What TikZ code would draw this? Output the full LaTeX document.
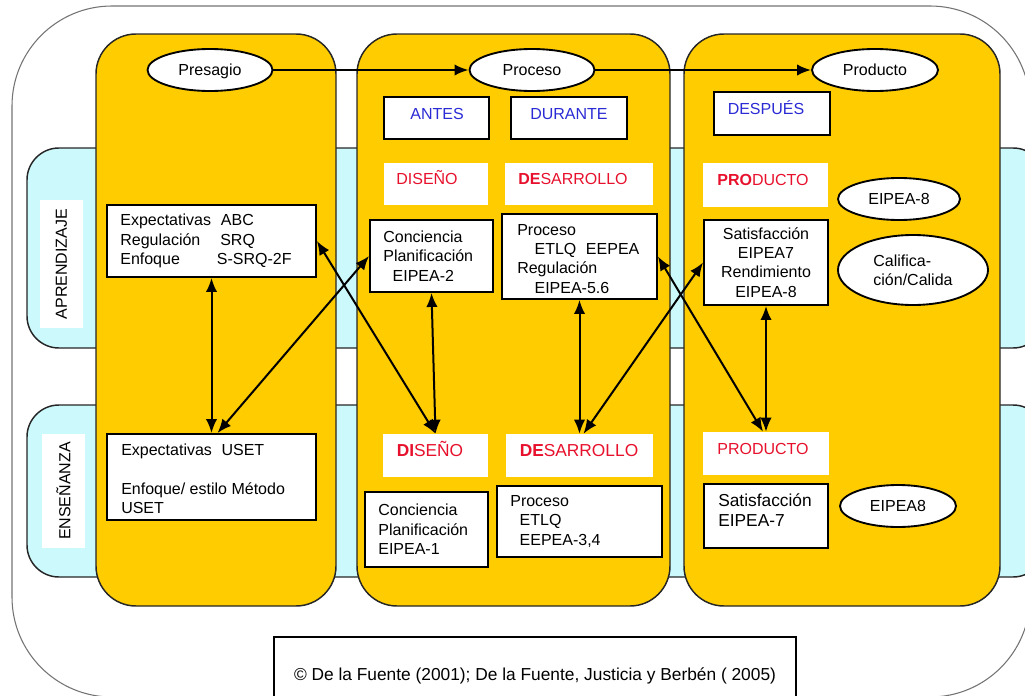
\documentclass[tikz,border=0pt]{standalone}
\usepackage{fontspec}
\setmainfont{Liberation Sans}
\usetikzlibrary{arrows.meta,shapes.geometric,calc}
\definecolor{colyellow}{HTML}{FFCC00}
\definecolor{bandcyan}{HTML}{CCFAFC}
\definecolor{hdblue}{HTML}{2B2BD6}
\definecolor{hdred}{HTML}{E8112D}

\begin{document}
\begin{tikzpicture}[x=0.75pt,y=-0.75pt,
  font=\fontsize{12}{14.5}\selectfont,
  column/.style={draw=black!85,line width=1.1pt,fill=colyellow,rounded corners=30pt},
  band/.style={draw=black!85,line width=1.1pt,fill=bandcyan,rounded corners=24pt},
  bx/.style={draw=black,line width=1.4pt,fill=white,inner sep=0pt},
  txtbox/.style={bx,align=left,inner xsep=10pt,inner ysep=0pt},
  plainbox/.style={fill=white,inner sep=0pt},
  hdtxt/.style={inner sep=0pt,text height=8.6pt,text depth=0pt},
  oval/.style={ellipse,draw=black,line width=1.4pt,fill=white,inner sep=0pt,text height=8.6pt,text depth=0pt},
  link/.style={line width=1.5pt,{Latex[length=10.5pt,width=8.5pt]}-{Latex[length=10.5pt,width=8.5pt]}},
  flow/.style={line width=1.5pt,-{Latex[length=10.5pt,width=8.5pt]}},
  sidelabel/.style={fill=white,rotate=90,inner sep=0pt,minimum height=32.25pt}
]
\useasboundingbox (0,0) rectangle (1025,696);

% outer frame
\draw[black!55,line width=0.8pt,rounded corners=75pt] (12,6) rectangle (1030,697);

% horizontal bands
\draw[band] (27,148) rectangle (1045,348);
\draw[band] (27,405) rectangle (1045,577);
\node[sidelabel,minimum width=96pt] (lapr) at (61.5,264) {APRENDIZAJE};
\node[sidelabel,minimum width=85.5pt] (lens) at (63.5,491) {ENSEÑANZA};

% vertical columns
\draw[column] (96,34) rectangle (336,606);
\draw[column] (357,34) rectangle (670,606);
\draw[column] (684,34) rectangle (1000,606);

% phase ellipses
\node[oval,minimum width=93.75pt,minimum height=31.5pt] (pres) at (210,70) {Presagio};
\node[oval,minimum width=93.75pt,minimum height=31.5pt] (proc) at (532,70) {Proceso};
\node[oval,minimum width=94.5pt,minimum height=31.5pt] (prod) at (875,70) {Producto};
\draw[flow] (pres) -- (proc);
\draw[flow] (proc) -- (prod);

% time headers
\node[bx,minimum width=78.75pt,minimum height=31.5pt] (antes) at (436.5,118) {};
\node[hdtxt,text=hdblue] (antesT) at (437,114) {ANTES};
\node[bx,minimum width=87pt,minimum height=31.5pt] (durante) at (569,118) {};
\node[hdtxt,text=hdblue] (duranteT) at (569,114) {DURANTE};
\node[bx,minimum width=87pt,minimum height=32.25pt] (despues) at (772,113.5) {};
\node[hdtxt,text=hdblue] (despuesT) at (766,109) {DESPUÉS};

% learning row
\node[plainbox,minimum width=78pt,minimum height=31.5pt] (disA) at (436,184) {};
\node[hdtxt,text=hdred] (disAT) at (427,179) {DISEÑO};
\node[plainbox,minimum width=111pt,minimum height=31.5pt] (desA) at (579,184) {};
\node[hdtxt,text=hdred] (desAT) at (573,179) {{\bfseries DE}SARROLLO};
\node[plainbox,minimum width=93.75pt,minimum height=33pt] (prodA) at (765.5,185) {};
\node[hdtxt,text=hdred] (prodAT) at (763,180) {{\bfseries PRO}DUCTO};

\node[oval,minimum width=91.5pt,minimum height=31.5pt] (e8) at (899,199) {EIPEA-8};
\node[ellipse,draw=black,line width=1.4pt,fill=white,inner sep=0pt,align=left,
      minimum width=112.5pt,minimum height=52.5pt] (calif) at (913,270) {Califica-\\ción/Calida};

\node[txtbox,text width=136.75pt,minimum height=54pt] (expA) at (211.5,241)
  {\makebox[75.5pt][l]{Expectativas}ABC\\\makebox[75pt][l]{Regulación}SRQ\\\makebox[72.5pt][l]{Enfoque}S-SRQ-2F};
\node[txtbox,text width=72.25pt,minimum height=54pt] (concA) at (431.5,256)
  {Conciencia\\Planificación\\\hspace*{7pt}EIPEA-2};
\node[txtbox,text width=96.25pt,minimum height=63.75pt] (procA) at (579.5,256.5) {};
\node[align=left,anchor=north west,inner sep=0pt] (procAT) at (517,224)
  {Proceso\\\hspace*{13pt}ETLQ\hspace{0.6em}EEPEA\\Regulación\\\hspace*{13pt}EIPEA-5.6};
\node[txtbox,align=center,text width=73pt,minimum height=63.75pt] (satA) at (766,262.5)
  {Satisfacción\\EIPEA7\\Rendimiento\\EIPEA-8};

% teaching row
\node[plainbox,minimum width=78.75pt,minimum height=32.25pt] (disE) at (435.5,455.5) {};
\node[hdtxt,text=hdred,font=\fontsize{13}{15}\selectfont] (disET) at (430,450.5) {{\bfseries DI}SEÑO};
\node[plainbox,minimum width=110.25pt,minimum height=32.25pt] (desE) at (579.5,455.5) {};
\node[hdtxt,text=hdred,font=\fontsize{13}{15}\selectfont] (desET) at (579,450.5) {{\bfseries DE}SARROLLO};
\node[plainbox,minimum width=94.5pt,minimum height=32.25pt] (prodE) at (766,453.5) {};
\node[hdtxt,text=hdred] (prodET) at (763,448.3) {PRODUCTO};

\node[txtbox,text width=136.75pt,minimum height=64.5pt] (expE) at (211.5,477) {};
\node[align=left,anchor=north west,inner sep=0pt] (expET) at (121,444)
  {Expectativas\hspace{0.6em}USET\\[14.5pt]Enfoque/ estilo Método\\USET};
\node[txtbox,text width=72.25pt,minimum height=56.25pt] (concE) at (426.5,529.5)
  {Conciencia\\Planificación\\EIPEA-1};
\node[txtbox,text width=103.75pt,minimum height=53.25pt] (procE) at (579.5,521.5)
  {Proceso\\\hspace*{7pt}ETLQ\\\hspace*{7pt}EEPEA-3,4};
\node[txtbox,text width=73pt,minimum height=48pt] (satE) at (766,516) {};
\node[align=left,anchor=north west,inner sep=0pt,font=\fontsize{13}{15}\selectfont] (satET) at (718,493)
  {Satisfacción\\EIPEA-7};
\node[oval,minimum width=87pt,minimum height=31.5pt] (e8b) at (898,506) {EIPEA8};

% source note
\node[bx,minimum width=391.5pt,minimum height=58.5pt,font=\fontsize{13}{15}\selectfont] (cite) at (535,676)
  {© De la Fuente (2001); De la Fuente, Justicia y Berbén ( 2005)};

% relations between learning and teaching
\draw[link] (expA.south) -- (expE.north);
\draw[link] (concA.west) -- ($(expE.north)+(6,0)$);
\draw[link] (expA.east) -- (disE.north);
\draw[link] (concA.south) -- (disE.north);
\draw[link] (procA.south) -- (desE.north);
\draw[link] (satA.west) -- ($(desE.north)+(4,0)$);
\draw[link] (procA.east) -- ($(prodE.north)+(-3,0)$);
\draw[link] (satA.south) -- (prodE.north);
\end{tikzpicture}
\end{document}
